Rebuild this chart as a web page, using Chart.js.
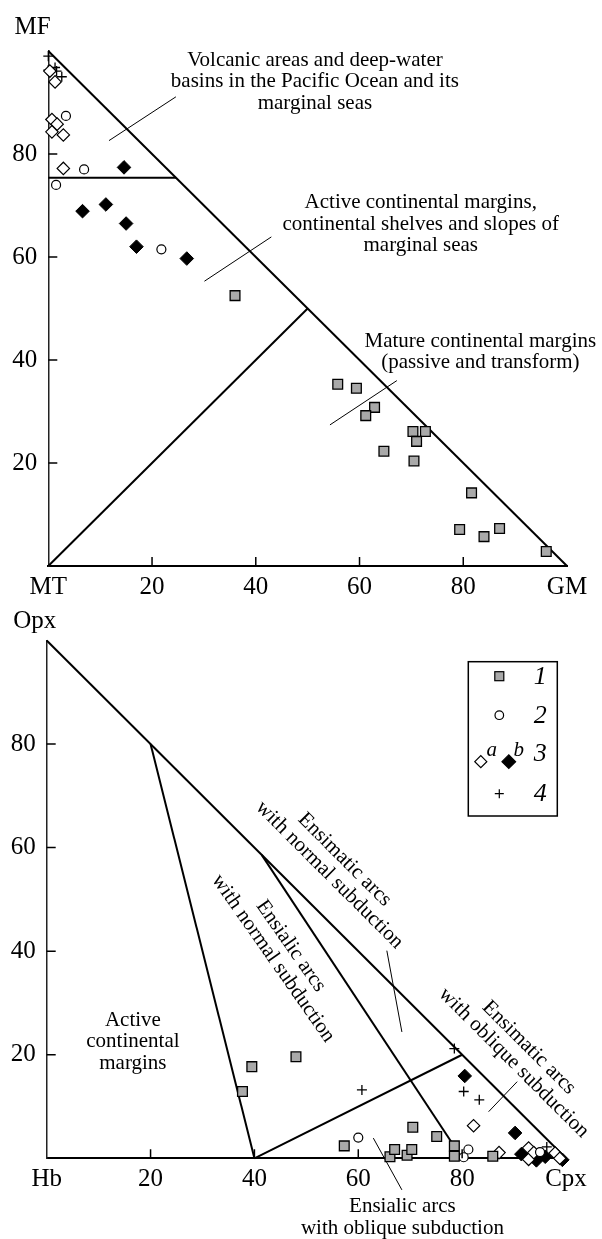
<!DOCTYPE html>
<html>
<head>
<meta charset="utf-8">
<script src="https://cdn.jsdelivr.net/npm/chart.js@4.4.1/dist/chart.umd.min.js"></script>
<style>
  html, body { margin: 0; padding: 0; background: #fff; }
  #wrap { position: relative; width: 602px; height: 1239px; }
  canvas { position: absolute; left: 0; }
  #top { top: 0; }
  #bottom { top: 600px; }
</style>
</head>
<body>
<div id="wrap">
  <canvas id="top" width="602" height="600"></canvas>
  <canvas id="bottom" width="602" height="639"></canvas>
</div>
<script>
// ---- data: upper diagram (MT - MF - GM) ----
const topSquares = [[36.0,52.5],[55.8,35.3],[59.4,34.5],[62.9,30.8],[61.2,29.2],[70.3,26.1],[72.7,26.1],[71.0,24.2],[64.7,22.3],[70.5,20.4],[81.6,14.2],[79.3,7.1],[84.0,5.7],[87.0,7.3],[96.0,2.8]];
const topCircles = [[3.4,87.4],[6.9,77.0],[1.5,74.0],[21.8,61.5]];
const topOpenDiamonds = [[0.3,96.1],[1.3,94.0],[0.7,86.7],[1.7,85.8],[0.7,84.3],[2.9,83.7],[2.9,77.2]];
const topFilledDiamonds = [[14.6,77.4],[6.6,68.9],[11.1,70.2],[15.0,66.5],[17.0,62.0],[26.7,59.7]];
const topCrosses = [[0,99.0],[1.3,96.8],[2.6,95.0],[0,96.3],[1.6,96.1]];
const topBoundaries = [
  [[0,100],[100,0]],
  [[0,75.4],[24.6,75.4]],
  [[0,0],[50,50]]
];
const topLeaders = [
  [[24.6,91.1],[11.7,82.6]],
  [[43.0,63.9],[30.1,55.3]],
  [[67.2,36.0],[54.3,27.4]]
];

// ---- data: lower diagram (Hb - Opx - Cpx) ----
const botSquares = [[37.7,12.9],[39.5,17.7],[48.0,19.6],[57.3,2.4],[66.1,0.3],[67.0,1.7],[69.4,0.6],[70.3,1.7],[70.5,6.0],[75.1,4.2],[78.5,2.4],[78.5,0.4],[85.9,0.4]];
const botCircles = [[60.0,4.0],[81.2,1.7],[80.3,0.2],[95.0,1.2]];
const botOpenDiamonds = [[82.2,6.3],[87.1,1.1],[92.8,2.0],[92.8,-0.2],[93.8,1.1],[97.9,1.0],[98.8,0.0]];
const botFilledDiamonds = [[80.5,15.9],[90.2,4.9],[91.4,0.8],[94.3,-0.4],[96.0,0.3],[99.3,-0.3]];
const botCrosses = [[78.5,21.2],[60.7,13.2],[80.3,12.9],[83.3,11.3],[96.3,2.2]];
const botBoundaries = [
  [[0,100],[100,0]],
  [[20,80],[40,0]],
  [[41.4,58.6],[80,0]],
  [[40,0],[80,20]]
];
const botLeaders = [
  [[65.5,40.1],[68.4,24.4]],
  [[90.6,14.8],[85.1,9.0]],
  [[62.9,3.9],[68.4,-6.1]]
];

const tickValues = [20, 40, 60, 80];

const SERIF = "'Liberation Serif', 'Times New Roman', serif";

function pts(arr) {
    return arr.map(p => ({ x: p[0], y: p[1] }));
}

function markers(sets) {
    return [
        { data: pts(sets.squares), pointStyle: 'rect', pointRadius: 6.9, backgroundColor: '#a9a9a9', borderColor: '#000', borderWidth: 1.3 },
        { data: pts(sets.circles), pointStyle: 'circle', pointRadius: 4.5, backgroundColor: '#fff', borderColor: '#000', borderWidth: 1.2 },
        { data: pts(sets.openDiamonds), pointStyle: 'rectRot', pointRadius: 6.2, backgroundColor: '#fff', borderColor: '#000', borderWidth: 1.2 },
        { data: pts(sets.filledDiamonds), pointStyle: 'rectRot', pointRadius: 6.8, backgroundColor: '#000', borderColor: '#000', borderWidth: 1 },
        { data: pts(sets.crosses), pointStyle: 'cross', pointRadius: 5, borderColor: '#000', borderWidth: 1.3 }
    ];
}

function lines(list, width) {
    return list.map(seg => ({
        data: pts(seg),
        showLine: true,
        pointRadius: 0,
        borderColor: '#000',
        borderWidth: width,
        fill: false
    }));
}

// ticks inside the frame, region names, axis title and legend
const decor = {
    id: 'decor',
    afterDraw(chart, args, opts) {
        const ctx = chart.ctx;
        const xs = chart.scales.x, ys = chart.scales.y;
        const area = chart.chartArea;
        ctx.save();
        ctx.strokeStyle = '#000';
        ctx.lineWidth = 1.5;
        ctx.beginPath();
        tickValues.forEach(v => {
            const px = xs.getPixelForValue(v);
            ctx.moveTo(px, area.bottom);
            ctx.lineTo(px, area.bottom - 9);
            const py = ys.getPixelForValue(v);
            ctx.moveTo(area.left, py);
            ctx.lineTo(area.left + 9, py);
        });
        ctx.stroke();

        ctx.fillStyle = '#000';
        ctx.textAlign = 'center';
        ctx.textBaseline = 'middle';
        ctx.font = '21px ' + SERIF;
        opts.notes.forEach(n => {
            ctx.save();
            ctx.translate(xs.getPixelForValue(n.x), ys.getPixelForValue(n.y));
            ctx.rotate((n.rot || 0) * Math.PI / 180);
            n.lines.forEach((t, i) => {
                ctx.fillText(t, 0, (i - (n.lines.length - 1) / 2) * 21.5);
            });
            ctx.restore();
        });

        ctx.font = '25px ' + SERIF;
        ctx.fillText(opts.title.text, opts.title.x, opts.title.y);

        if (opts.legend) {
            const L = opts.legend;
            ctx.lineWidth = 1.5;
            ctx.strokeRect(L.x, L.y, L.w, L.h);
            const mx = L.x + 31, nx = L.x + 72;
            // 1: square
            ctx.lineWidth = 1.2;
            ctx.fillStyle = '#a9a9a9';
            ctx.fillRect(mx - 4.5, L.y + 10, 9, 9);
            ctx.strokeRect(mx - 4.5, L.y + 10, 9, 9);
            // 2: circle
            ctx.beginPath();
            ctx.arc(mx, L.y + 53.5, 4.3, 0, Math.PI * 2);
            ctx.fillStyle = '#fff';
            ctx.fill();
            ctx.stroke();
            // 3: open and filled diamonds
            const dy = L.y + 100;
            const diamond = (cx, r, fill) => {
                ctx.beginPath();
                ctx.moveTo(cx - r, dy); ctx.lineTo(cx, dy - r);
                ctx.lineTo(cx + r, dy); ctx.lineTo(cx, dy + r);
                ctx.closePath();
                ctx.fillStyle = fill;
                ctx.fill();
                ctx.stroke();
            };
            diamond(L.x + 12.5, 6, '#fff');
            diamond(L.x + 40.5, 6.8, '#000');
            // 4: cross
            ctx.beginPath();
            ctx.moveTo(mx - 4.5, L.y + 132); ctx.lineTo(mx + 4.5, L.y + 132);
            ctx.moveTo(mx, L.y + 127.5); ctx.lineTo(mx, L.y + 136.5);
            ctx.stroke();

            ctx.fillStyle = '#000';
            ctx.font = 'italic 26px ' + SERIF;
            ctx.fillText('1', nx, L.y + 15.5);
            ctx.fillText('2', nx, L.y + 54);
            ctx.fillText('3', nx, L.y + 92);
            ctx.fillText('4', nx, L.y + 132);
            ctx.font = 'italic 21px ' + SERIF;
            ctx.fillText('a', L.x + 23.5, L.y + 89);
            ctx.fillText('b', L.x + 50.5, L.y + 89);
        }
        ctx.restore();
    }
};

function buildChart(id, cfg) {
    const ctx = document.getElementById(id).getContext('2d');
    return new Chart(ctx, {
        type: 'scatter',
        data: {
            datasets: markers(cfg.sets)
                .concat(lines(cfg.leaders, 1))
                .concat(lines(cfg.boundaries, 2))
                .map(d => Object.assign({ clip: false }, d))
        },
        options: {
            responsive: false,
            animation: false,
            events: [],
            layout: { padding: cfg.padding },
            plugins: {
                legend: { display: false },
                tooltip: { enabled: false },
                decor: { notes: cfg.notes, title: cfg.title, legend: cfg.legend }
            },
            scales: {
                x: {
                    type: 'linear',
                    min: 0,
                    max: 100,
                    afterFit: s => { s.height = cfg.xHeight; },
                    grid: { display: false },
                    border: { color: '#000', width: 2 },
                    ticks: {
                        stepSize: 20,
                        autoSkip: false,
                        maxRotation: 0,
                        padding: -2,
                        color: '#000',
                        font: { family: SERIF, size: 25 },
                        callback: v => v === 0 ? cfg.xLeft : (v === 100 ? cfg.xRight : v)
                    }
                },
                y: {
                    type: 'linear',
                    min: 0,
                    max: 100,
                    afterFit: s => { s.width = cfg.yWidth; },
                    grid: { display: false },
                    border: { color: '#222', width: 1.5 },
                    ticks: {
                        stepSize: 20,
                        padding: 3,
                        color: '#000',
                        font: { family: SERIF, size: 25 },
                        callback: v => (v === 0 || v === 100) ? '' : v
                    }
                }
            }
        },
        plugins: [decor]
    });
}

buildChart('top', {
    sets: { squares: topSquares, circles: topCircles, openDiamonds: topOpenDiamonds, filledDiamonds: topFilledDiamonds, crosses: topCrosses },
    boundaries: topBoundaries,
    leaders: topLeaders,
    padding: { top: 51, right: 35, left: 0, bottom: 0 },
    xHeight: 34,
    yWidth: 48.3,
    xLeft: 'MT',
    xRight: 'GM',
    title: { text: 'MF', x: 32.5, y: 27 },
    notes: [
        { x: 51.4, y: 94.0, lines: ['Volcanic areas and deep-water', 'basins in the Pacific Ocean and its', 'marginal seas'] },
        { x: 71.8, y: 66.4, lines: ['Active continental margins,', 'continental shelves and slopes of', 'marginal seas'] },
        { x: 83.3, y: 41.6, lines: ['Mature continental margins', '(passive and transform)'] }
    ]
});

buildChart('bottom', {
    sets: { squares: botSquares, circles: botCircles, openDiamonds: botOpenDiamonds, filledDiamonds: botFilledDiamonds, crosses: botCrosses },
    boundaries: botBoundaries,
    leaders: botLeaders,
    padding: { top: 40.5, right: 36, left: 0, bottom: 0 },
    xHeight: 80.7,
    yWidth: 46.7,
    xLeft: 'Hb',
    xRight: 'Cpx',
    title: { text: 'Opx', x: 34.7, y: 21.7 },
    legend: { x: 468.3, y: 61.7, w: 89, h: 154.3 },
    notes: [
        { x: 16.6, y: 22.5, lines: ['Active', 'continental', 'margins'] },
        { x: 68.5, y: -11.4, lines: ['Ensialic arcs', 'with oblique subduction'] },
        { x: 55.9, y: 56.2, rot: 45, lines: ['Ensimatic arcs', 'with normal subduction'] },
        { x: 45.3, y: 39.8, rot: 55, lines: ['Ensialic arcs', 'with normal subduction'] },
        { x: 91.4, y: 19.9, rot: 45, lines: ['Ensimatic arcs', 'with oblique subduction'] }
    ]
});
</script>
</body>
</html>
